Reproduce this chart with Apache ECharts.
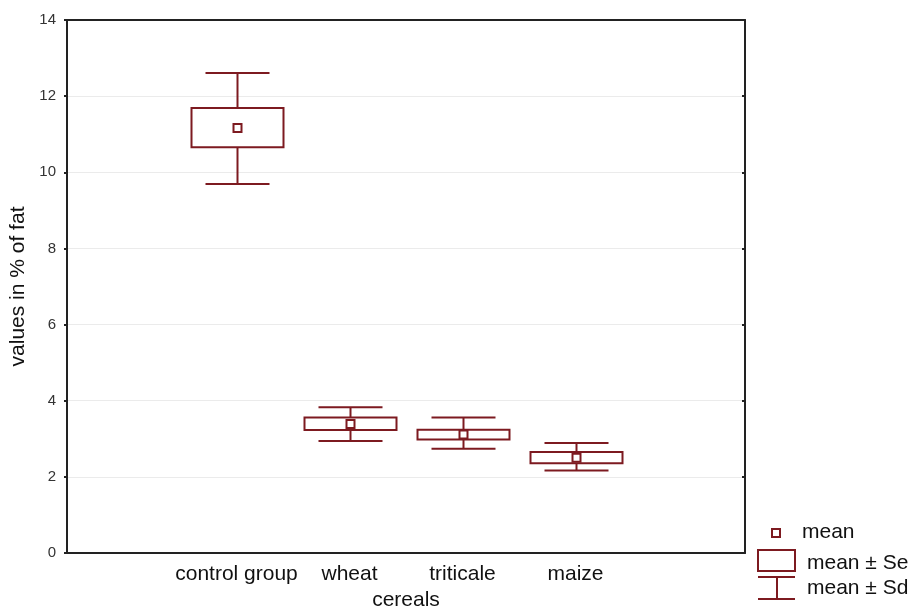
<!DOCTYPE html>
<html>
<head>
<meta charset="utf-8">
<script src="https://cdn.jsdelivr.net/npm/echarts@6/dist/echarts.min.js"></script>
<style>
html,body{margin:0;padding:0;background:#fff;}
#chart{width:919px;height:610px;}
</style>
</head>
<body>
<div id="chart"></div>
<script>
// categories (first and last are empty padding slots on the axis)
var categories = ['', 'control group', 'wheat', 'triticale', 'maize', ''];
var groupIndex = [1, 2, 3, 4];
var means  = [11.16, 3.39, 3.11, 2.50];
var seLow  = [10.66, 3.23, 2.98, 2.36];
var seHigh = [11.69, 3.56, 3.24, 2.65];
var sdLow  = [9.69, 2.94, 2.74, 2.17];
var sdHigh = [12.61, 3.83, 3.56, 2.89];
var yTicks = [0, 2, 4, 6, 8, 10, 12, 14];

var RED = '#7d1a20';
var FONT = "'Liberation Sans', Arial, sans-serif";

var data = groupIndex.map(function (g, i) {
  return [g, means[i], seLow[i], seHigh[i], sdLow[i], sdHigh[i]];
});

function renderItem(params, api) {
  var x = api.value(0);
  var pm = api.coord([x, api.value(1)]);
  var pSeL = api.coord([x, api.value(2)]);
  var pSeH = api.coord([x, api.value(3)]);
  var pSdL = api.coord([x, api.value(4)]);
  var pSdH = api.coord([x, api.value(5)]);
  var cx = Math.round(pm[0]) + 0.5;
  var bw = 46, ww = 32, ms = 4;
  var ls = { stroke: RED, lineWidth: 2, fill: null };
  return {
    type: 'group',
    children: [
      { type: 'line', shape: { x1: cx, y1: pSdH[1], x2: cx, y2: pSeH[1] }, style: ls },
      { type: 'line', shape: { x1: cx, y1: pSeL[1], x2: cx, y2: pSdL[1] }, style: ls },
      { type: 'line', shape: { x1: cx - ww, y1: pSdH[1], x2: cx + ww, y2: pSdH[1] }, style: ls },
      { type: 'line', shape: { x1: cx - ww, y1: pSdL[1], x2: cx + ww, y2: pSdL[1] }, style: ls },
      { type: 'rect', shape: { x: cx - bw, y: pSeH[1], width: bw * 2, height: pSeL[1] - pSeH[1] },
        style: { stroke: RED, lineWidth: 2, fill: 'rgba(255,255,255,0)' } },
      { type: 'rect', shape: { x: cx - ms, y: pm[1] - ms, width: ms * 2, height: ms * 2 },
        style: { stroke: RED, lineWidth: 2, fill: '#fff' } }
    ]
  };
}

var chart = echarts.init(document.getElementById('chart'), null, { renderer: 'canvas' });
var axisLineStyle = { color: '#222', width: 2 };
chart.setOption({
  animation: false,
  backgroundColor: '#fff',
  grid: { left: 67, top: 20, right: 174, bottom: 57, containLabel: false, outerBoundsMode: 'none' },
  xAxis: [{
    type: 'category',
    data: categories,
    boundaryGap: true,
    name: 'cereals',
    nameLocation: 'middle',
    nameGap: 37,
    nameTextStyle: { fontSize: 21, color: '#111', fontFamily: FONT },
    axisLine: { onZero: false, lineStyle: axisLineStyle },
    axisTick: { alignWithLabel: true, inside: true, length: 4, lineStyle: { color: '#222', width: 2 } },
    axisLabel: { fontSize: 21, color: '#111', fontFamily: FONT, margin: 11, interval: 0 },
    splitLine: { show: false }
  }, {
    type: 'category',
    position: 'top',
    data: categories,
    boundaryGap: true,
    axisLine: { onZero: false, lineStyle: axisLineStyle },
    axisTick: { alignWithLabel: true, inside: true, length: 4, lineStyle: { color: '#222', width: 2 } },
    axisLabel: { show: false },
    splitLine: { show: false }
  }],
  yAxis: [{
    type: 'value',
    min: yTicks[0],
    max: yTicks[yTicks.length - 1],
    interval: 2,
    name: 'values in % of fat',
    nameLocation: 'middle',
    nameRotate: 90,
    nameGap: 36,
    nameTextStyle: { fontSize: 21, color: '#111', fontFamily: FONT },
    axisLine: { show: true, onZero: false, lineStyle: axisLineStyle },
    axisTick: { show: true, length: 3, lineStyle: { color: '#222', width: 2 } },
    axisLabel: { fontSize: 15, color: '#333', fontFamily: FONT, margin: 11 },
    splitLine: { show: true, lineStyle: { color: '#ebebeb', width: 1 } }
  }, {
    type: 'value',
    position: 'right',
    min: yTicks[0],
    max: yTicks[yTicks.length - 1],
    interval: 2,
    axisLine: { show: true, onZero: false, lineStyle: axisLineStyle },
    axisTick: { show: true, inside: true, length: 3, lineStyle: { color: '#222', width: 2 } },
    axisLabel: { show: false },
    splitLine: { show: false }
  }],
  series: [{
    type: 'custom',
    renderItem: renderItem,
    data: data,
    encode: { x: 0, y: [1, 2, 3, 4, 5] },
    z: 10
  }],
  graphic: [
    { type: 'rect', shape: { x: 772, y: 529, width: 8, height: 8 },
      style: { stroke: RED, lineWidth: 2, fill: '#fff' } },
    { type: 'text', style: { x: 802, y: 532, text: 'mean', fontSize: 21, fontFamily: FONT, fill: '#111', verticalAlign: 'middle' } },
    { type: 'rect', shape: { x: 758, y: 550, width: 37, height: 21 },
      style: { stroke: RED, lineWidth: 2, fill: null } },
    { type: 'text', style: { x: 807, y: 563, text: 'mean ± Se', fontSize: 21, fontFamily: FONT, fill: '#111', verticalAlign: 'middle' } },
    { type: 'line', shape: { x1: 758, y1: 577, x2: 795, y2: 577 }, style: { stroke: RED, lineWidth: 2 } },
    { type: 'line', shape: { x1: 777, y1: 577, x2: 777, y2: 599 }, style: { stroke: RED, lineWidth: 2 } },
    { type: 'line', shape: { x1: 758, y1: 599, x2: 795, y2: 599 }, style: { stroke: RED, lineWidth: 2 } },
    { type: 'text', style: { x: 807, y: 588, text: 'mean ± Sd', fontSize: 21, fontFamily: FONT, fill: '#111', verticalAlign: 'middle' } }
  ]
});
</script>
</body>
</html>
